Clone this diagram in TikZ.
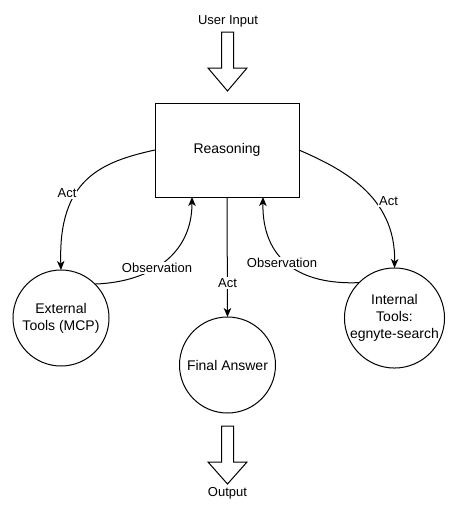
\documentclass[tikz,border=0pt]{standalone}
\usepackage{fontspec}
\setmainfont{Liberation Sans}
\usetikzlibrary{arrows.meta}
\begin{document}
\begin{tikzpicture}[x=1pt,y=-1pt,
  every node/.style={outer sep=0pt},
  mainfont/.style={font=\fontsize{14}{17}\selectfont},
  lbl/.style={font=\fontsize{13}{15}\selectfont, fill=white, inner sep=1pt},
  circ/.style={circle, draw, line width=1pt, minimum size=96pt, inner sep=0pt, align=center, mainfont},
  conn/.style={line width=1pt, -{Stealth[length=9pt,width=7.5pt,inset=2.5pt]}},
  hollow/.style={draw, line width=1pt, fill=white, line join=miter}]
\useasboundingbox (0,0) rectangle (455,512);
\node[draw, line width=1pt, minimum width=144pt, minimum height=94pt, mainfont] (reason) at (227,150) {Reasoning};
\node[circ] (ext) at (61,318) {External\\Tools (MCP)};
\node[circ] (int) at (394.5,318) {Internal\\Tools:\\egnyte-search};
\node[circ] (final) at (227.5,365) {Final Answer};
\node[font=\fontsize{13}{15}\selectfont] (inp) at (228,21) {User Input};
\node[font=\fontsize{13}{15}\selectfont] (out) at (227.5,493) {Output};
% hollow arrows
\draw[hollow] (221.5,32) -- (233.5,32) -- (233.5,68) -- (247,68) -- (227.5,91) -- (208,68) -- (221.5,68) -- cycle;
\draw[hollow] (221.5,426) -- (233.5,426) -- (233.5,462) -- (247,462) -- (227.5,484) -- (208,462) -- (221.5,462) -- cycle;
% connectors
\draw[conn] (reason.west) .. controls (100,162) and (58,180) .. (ext.north);
\draw[conn] (ext.45) .. controls (150,282) and ([xshift=37pt,yshift=-58pt]reason.south west) .. ([xshift=37pt]reason.south west);
\draw[conn] (reason.east) .. controls (340,168) and (396,195) .. (int.north);
\draw[conn] (int.135) .. controls (300,285) and ([xshift=-37pt,yshift=-63pt]reason.south east) .. ([xshift=-36pt]reason.south east);
\draw[conn] (reason.south) -- (final.north);
% labels
\node[lbl] (l1) at (67,193) {Act};
\node[lbl] (l2) at (157,268) {Observation};
\node[lbl] (l3) at (388.5,201) {Act};
\node[lbl] (l4) at (282,263) {Observation};
\node[lbl] (l5) at (227.5,283) {Act};
\end{tikzpicture}
\end{document}
